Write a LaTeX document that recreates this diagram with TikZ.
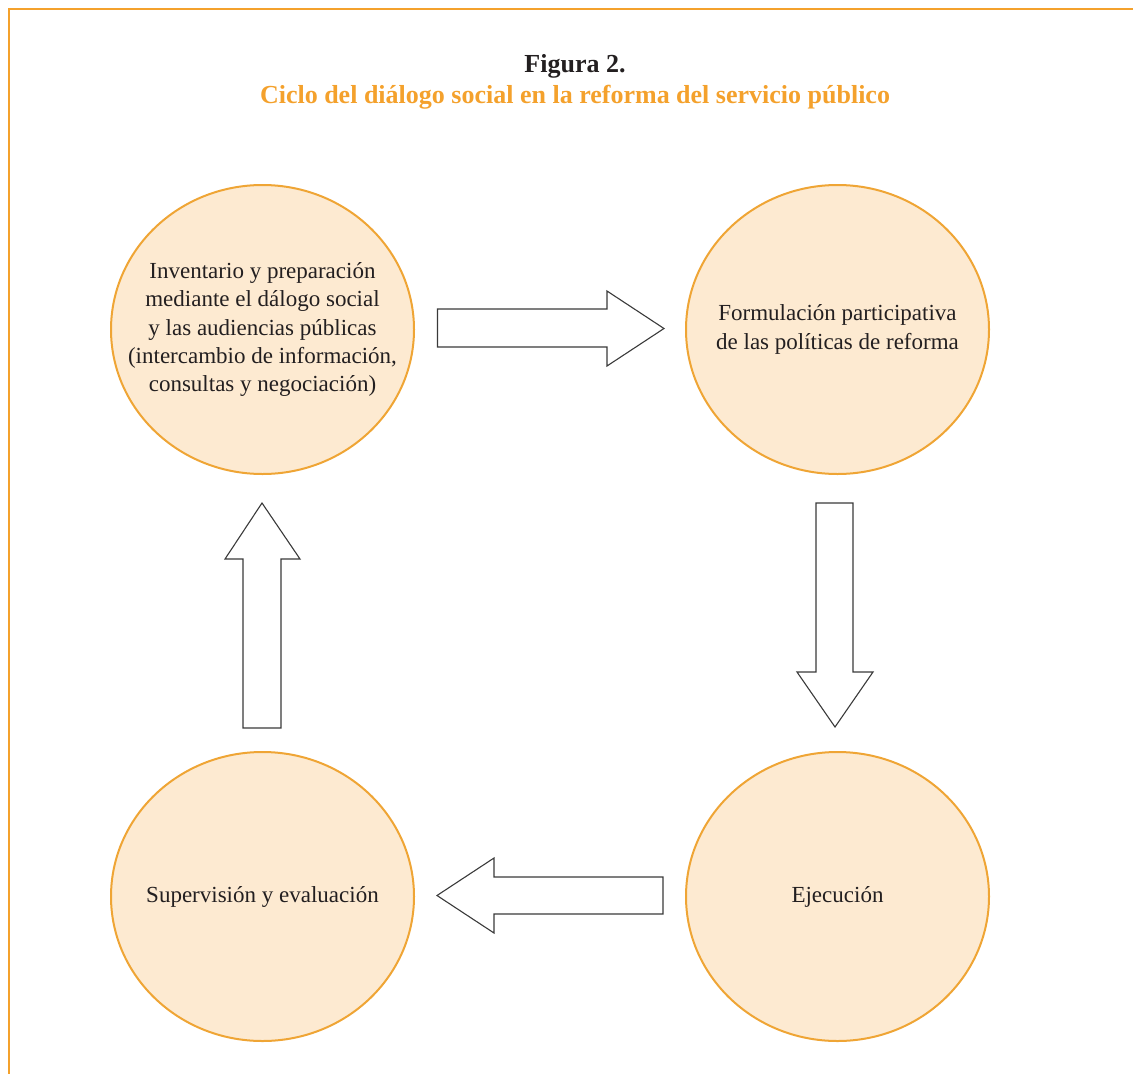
\documentclass[tikz,border=0pt]{standalone}
\usepackage{fontspec}
\setmainfont{Liberation Serif}
\definecolor{orangeA}{HTML}{F4A12C}
\definecolor{peach}{HTML}{FDEAD1}
\definecolor{circleline}{HTML}{EFA535}
\definecolor{txt}{HTML}{231F20}
\definecolor{arrowline}{HTML}{3A3A3A}
\tikzset{
  stage/.style={ellipse, draw=circleline, line width=2pt, fill=peach,
    minimum width=303pt, minimum height=289pt, inner sep=0pt},
  stagetext/.style={align=center, inner sep=0pt, text=txt,
    font=\fontsize{23pt}{28.4pt}\selectfont},
  blockarrow/.style={draw=arrowline, line width=1.1pt, fill=white, line join=miter},
  frameline/.style={draw=orangeA, line width=2.2pt}
}
\usetikzlibrary{shapes.geometric}
\begin{document}
\begin{tikzpicture}[x=1pt,y=-1pt]
\useasboundingbox (0,0) rectangle (1133,1074);
% frame
\draw[frameline] (9,1074) -- (9,9) -- (1133,9);
% title
\node[anchor=base, font=\fontsize{26pt}{30pt}\selectfont\bfseries, text=txt] (fig) at (575,72) {Figura 2.};
\node[anchor=base, font=\fontsize{26pt}{30pt}\selectfont\bfseries, text=orangeA] (title) at (575,103) {Ciclo del diálogo social en la reforma del servicio público};
% stages
\node[stage] (inv) at (262.5,329.5) {};
\node[stage] (form) at (837.5,329.5) {};
\node[stage] (ejec) at (837.5,896.5) {};
\node[stage] (sup) at (262.5,896.5) {};
\node[stagetext] (invt) at (inv.center) {Inventario y preparación\\mediante el dálogo social\\y las audiencias públicas\\(intercambio de información,\\consultas y negociación)};
\node[stagetext] (formt) at (form.center) {Formulación participativa\\de las políticas de reforma};
\node[stagetext] (eject) at (ejec.center) {Ejecución};
\node[stagetext] (supt) at (sup.center) {Supervisión y evaluación};
% block arrows
\draw[blockarrow] (437.5,309) -- (607,309) -- (607,291) -- (664,328.5) -- (607,366) -- (607,347) -- (437.5,347) -- cycle;
\draw[blockarrow] (816,503) -- (853,503) -- (853,672) -- (873,672) -- (835,727) -- (797,672) -- (816,672) -- cycle;
\draw[blockarrow] (663,877) -- (494,877) -- (494,858) -- (437,895.5) -- (494,933) -- (494,914) -- (663,914) -- cycle;
\draw[blockarrow] (243,728) -- (243,559) -- (225,559) -- (262,503) -- (300,559) -- (281,559) -- (281,728) -- cycle;
\end{tikzpicture}
\end{document}
